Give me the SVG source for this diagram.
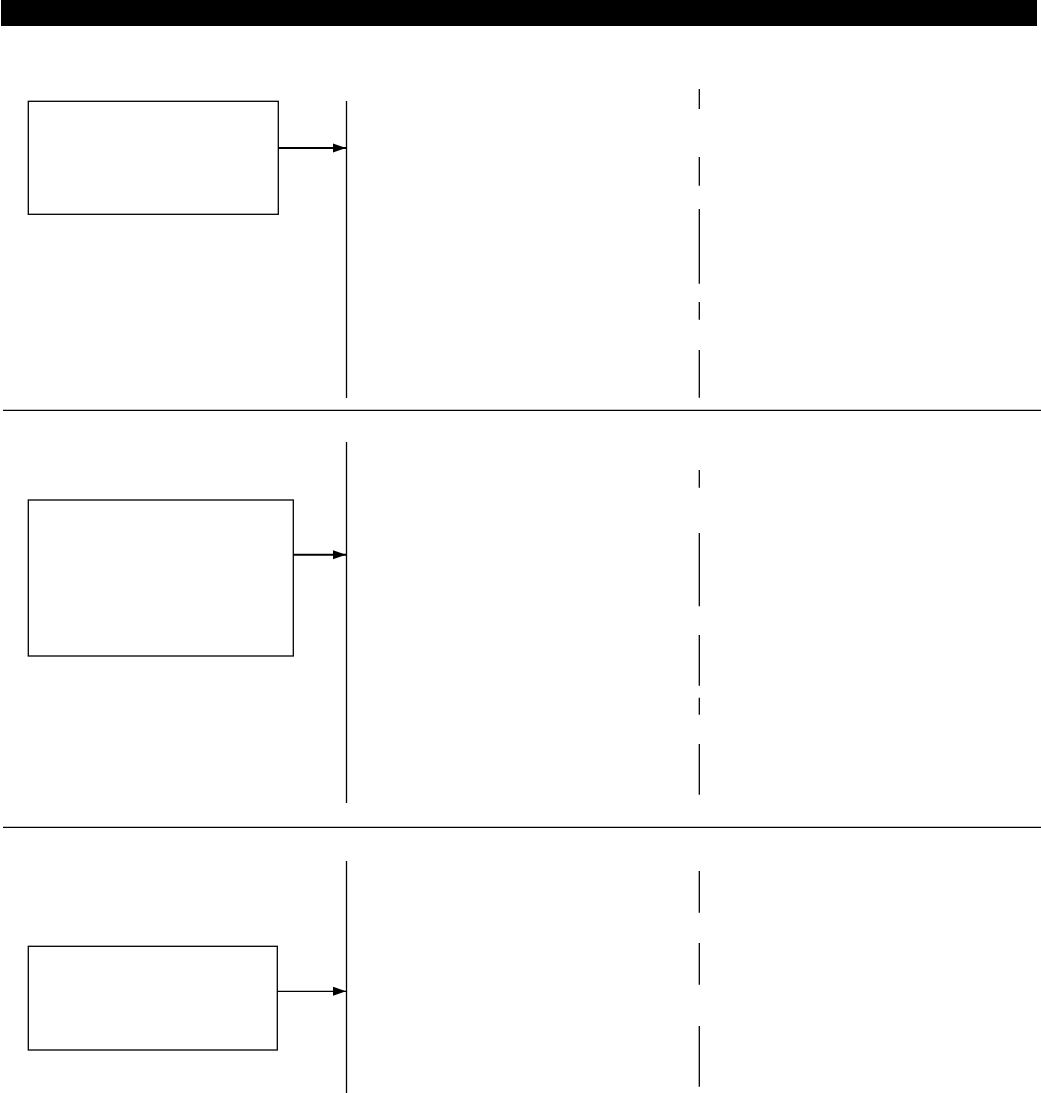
<svg xmlns="http://www.w3.org/2000/svg" width="1041" height="1093" viewBox="0 0 1041 1093">
<style>
.box{fill:#fff;stroke:#000;stroke-width:1.3}
.ln{stroke:#000;stroke-width:1.3;fill:none}
.arr{stroke:#000;fill:none}
</style>
<defs>
<marker id="ah" markerUnits="userSpaceOnUse" markerWidth="14" markerHeight="12" refX="13" refY="6" orient="auto">
<path d="M0,1.5 L13,6 L0,10.5 Z" fill="#000"/>
</marker>
</defs>
<rect width="1041" height="1093" fill="#fff"/>
<rect id="header" x="1" y="0" width="1036" height="26" fill="#000"/>
<g id="separators">
<line class="ln" x1="3" y1="410.3" x2="1041" y2="410.3"/>
<line class="ln" x1="3" y1="827.3" x2="1041" y2="827.3"/>
</g>
<g id="node1"><rect class="box" x="28.3" y="101.3" width="250" height="113"/></g>
<g id="node2"><rect class="box" x="28.3" y="500" width="265" height="156"/></g>
<g id="node3"><rect class="box" x="28.3" y="946.3" width="249" height="103.7"/></g>
<g id="lifelines">
<line class="ln" x1="346.5" y1="101" x2="346.5" y2="398"/>
<line class="ln" x1="346.5" y1="442" x2="346.5" y2="803"/>
<line class="ln" x1="346.5" y1="861" x2="346.5" y2="1093"/>
</g>
<g id="segments">
<line class="ln" x1="699.3" y1="89" x2="699.3" y2="109"/>
<line class="ln" x1="699.3" y1="157" x2="699.3" y2="185.7"/>
<line class="ln" x1="699.3" y1="209" x2="699.3" y2="283.7"/>
<line class="ln" x1="699.3" y1="302" x2="699.3" y2="319.7"/>
<line class="ln" x1="699.3" y1="350" x2="699.3" y2="397.7"/>
<line class="ln" x1="699.3" y1="470" x2="699.3" y2="487.7"/>
<line class="ln" x1="699.3" y1="533" x2="699.3" y2="606.3"/>
<line class="ln" x1="699.3" y1="635" x2="699.3" y2="685.7"/>
<line class="ln" x1="699.3" y1="697.7" x2="699.3" y2="714.7"/>
<line class="ln" x1="699.3" y1="744" x2="699.3" y2="794.7"/>
<line class="ln" x1="699.3" y1="871" x2="699.3" y2="912.7"/>
<line class="ln" x1="699.3" y1="943" x2="699.3" y2="984.7"/>
<line class="ln" x1="699.3" y1="1026" x2="699.3" y2="1086.7"/>
</g>
<g id="connectors">
<line class="arr" x1="278.3" y1="148" x2="346" y2="148" stroke-width="2" marker-end="url(#ah)"/>
<line class="arr" x1="293.3" y1="554.7" x2="346" y2="554.7" stroke-width="2" marker-end="url(#ah)"/>
<line class="arr" x1="277.3" y1="991.3" x2="346" y2="991.3" stroke-width="1.3" marker-end="url(#ah)"/>
</g>
</svg>
